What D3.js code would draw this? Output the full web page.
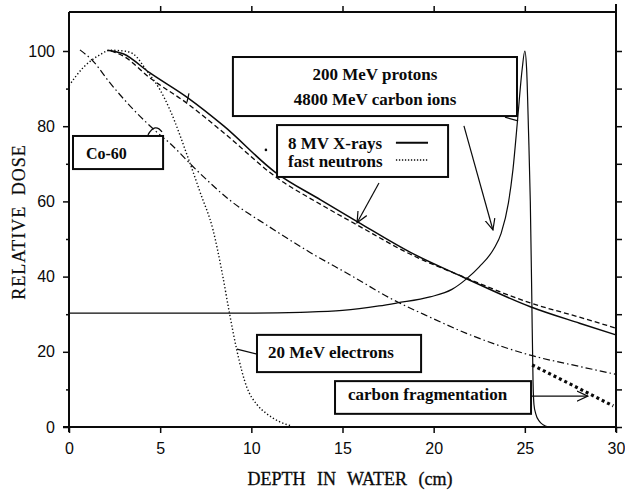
<!DOCTYPE html>
<html>
<head>
<meta charset="utf-8">
<script src="https://cdn.jsdelivr.net/npm/d3@7"></script>
<style>
  html, body { margin: 0; padding: 0; background: #fff; }
  svg { display: block; }
</style>
</head>
<body>
<svg id="chart" width="625" height="491"></svg>
<script>
// ---------- DATA ----------
const depthTicks = [0, 5, 10, 15, 20, 25, 30];
const doseTicks = [0, 20, 40, 60, 80, 100];
const doseMinorTicks = [10, 30, 50, 70, 90];
const rightTicks = [0, 10, 20, 30, 40, 50, 60, 70, 80, 90, 100];

// 8 MV X-rays (solid)
const xrayDepth = [2.1, 3.0, 4.4, 6.5, 8.5, 11.3, 13.8, 15.85, 18.7, 21.6, 25.3, 28.0, 30.0];
const xrayDose  = [100.2, 99.2, 94.3, 87.6, 80.0, 67.8, 60.4, 54.5, 46.5, 39.9, 32.0, 27.6, 24.5];

// fast neutrons (dashed)
const neutronDepth = [2.3, 3.0, 4.4, 6.5, 8.5, 11.4, 13.8, 15.85, 18.7, 21.6, 25.3, 28.0, 30.0];
const neutronDose  = [100.0, 98.6, 93.0, 86.0, 78.2, 66.3, 59.2, 53.6, 46.0, 40.0, 33.0, 29.2, 26.3];

// Co-60 (dash-dot)
const coDepth = [0.6, 1.3, 2.25, 3.5, 4.8, 5.5, 7.0, 8.8, 11.0, 13.2, 15.5, 17.6, 19.8, 21.8, 25.3, 28.0, 30.0];
const coDose  = [100.3, 97.4, 91.5, 84.6, 78.5, 75.6, 68.3, 60.4, 53.2, 46.5, 40.2, 34.3, 29.2, 24.9, 19.1, 16.1, 14.0];

// 20 MeV electrons (dotted)
const elecDepth = [0.0, 0.8, 1.7, 2.25, 3.0, 3.5, 4.3, 5.0, 5.54, 6.5, 7.2, 7.9, 8.4, 8.8, 9.2, 9.75, 10.3, 10.8, 11.5, 12.2];
const elecDose  = [90.8, 95.7, 99.0, 100.2, 100.0, 99.3, 94.5, 89.6, 84.3, 72.0, 62.3, 52.4, 41.0, 30.3, 20.5, 10.6, 6.0, 3.7, 1.5, 0.3];

// 200 MeV protons / 4800 MeV carbon ions (Bragg curve)
const braggDepth = [0, 5, 10, 12.7, 15, 17, 18, 19.8, 21.0, 21.8, 22.5, 23.3, 23.7, 24.1, 24.35, 24.6, 24.85, 25.0, 25.1, 25.2, 25.3, 25.38, 25.45, 25.5, 25.6, 25.8, 26.0, 26.3];
const braggDose  = [30.3, 30.3, 30.3, 30.5, 31.0, 32.2, 33.0, 34.6, 36.6, 39.4, 42.6, 47.4, 51.5, 59.6, 68.5, 81.6, 95.0, 100.0, 95.0, 79.0, 60.0, 35.0, 12.0, 6.0, 3.5, 1.5, 0.6, 0.0];

// carbon fragmentation tail (thick dotted)
const fragDepth = [25.4, 27.5, 29.85];
const fragDose  = [16.5, 11.4, 5.6];

// texts
const xAxisTitle = "DEPTH IN WATER (cm)";
const yAxisTitle = "RELATIVE DOSE";
const protonLabel = ["200 MeV protons", "4800 MeV carbon ions"];
const photonLabel = ["8 MV X-rays", "fast neutrons"];
const cobaltLabel = "Co-60";
const electronLabel = "20 MeV electrons";
const fragLabel = "carbon fragmentation";

// ---------- LAYOUT ----------
const svg = d3.select("#chart");
const L = 69, R = 616, T = 12, B = 427;
const x = d3.scaleLinear().domain([0, 30]).range([L, R]);
const y = d3.scaleLinear().domain([0, 100]).range([B, 51]);
const ink = "#0a0a0a";

const zip = (xs, ys) => xs.map((d, i) => [d, ys[i]]);
const line = d3.line().x(d => x(d[0])).y(d => y(d[1])).curve(d3.curveMonotoneX);
const lineLin = d3.line().x(d => x(d[0])).y(d => y(d[1]));

// ---------- CURVES ----------
const g = svg.append("g");
g.append("path").datum(zip(braggDepth, braggDose)).attr("d", line)
  .attr("fill", "none").attr("stroke", ink).attr("stroke-width", 1.2);
g.append("path").datum(zip(coDepth, coDose)).attr("d", line)
  .attr("fill", "none").attr("stroke", ink).attr("stroke-width", 1.2)
  .attr("stroke-dasharray", "7,3,1.5,3");
g.append("path").datum(zip(elecDepth, elecDose)).attr("d", line)
  .attr("fill", "none").attr("stroke", ink).attr("stroke-width", 1.4)
  .attr("stroke-dasharray", "1.3,2.2");
g.append("path").datum(zip(neutronDepth, neutronDose)).attr("d", line)
  .attr("fill", "none").attr("stroke", ink).attr("stroke-width", 1.3)
  .attr("stroke-dasharray", "5,3");
g.append("path").datum(zip(xrayDepth, xrayDose)).attr("d", line)
  .attr("fill", "none").attr("stroke", ink).attr("stroke-width", 1.5);
g.append("path").datum(zip(fragDepth, fragDose)).attr("d", lineLin)
  .attr("fill", "none").attr("stroke", ink).attr("stroke-width", 3.2)
  .attr("stroke-dasharray", "3,3");

// ---------- AXES / FRAME ----------
const tickFont = "'Liberation Sans', Arial, sans-serif";
const ax = svg.append("g");
ax.append("line").attr("x1", L).attr("x2", L).attr("y1", T).attr("y2", B + 5).attr("stroke", ink).attr("stroke-width", 2);
ax.append("line").attr("x1", L - 6).attr("x2", R).attr("y1", B).attr("y2", B).attr("stroke", ink).attr("stroke-width", 2);
ax.append("line").attr("x1", L).attr("x2", R).attr("y1", T).attr("y2", T).attr("stroke", ink).attr("stroke-width", 1.8);
ax.append("line").attr("x1", R).attr("x2", R).attr("y1", T - 8).attr("y2", B + 5).attr("stroke", ink).attr("stroke-width", 2);

const axBottom = ax.append("g").attr("transform", `translate(0,${B})`)
  .call(d3.axisBottom(x).tickValues(depthTicks).tickFormat(d3.format("d")).tickSize(6).tickPadding(10));
const axLeft = ax.append("g").attr("transform", `translate(${L},0)`)
  .call(d3.axisLeft(y).tickValues(doseTicks).tickFormat(d3.format("d")).tickSize(6).tickPadding(8));
const axLeftMinor = ax.append("g").attr("transform", `translate(${L},0)`)
  .call(d3.axisLeft(y).tickValues(doseMinorTicks).tickFormat("").tickSize(3));
const axTop = ax.append("g").attr("transform", `translate(0,${T})`)
  .call(d3.axisTop(x).tickValues(depthTicks.slice(1, -1)).tickFormat("").tickSize(6));
const axRight = ax.append("g").attr("transform", `translate(${R},0)`)
  .call(d3.axisRight(y).tickValues(rightTicks).tickFormat("").tickSize(6));

[axBottom, axLeft, axLeftMinor, axTop, axRight].forEach(s => {
  s.select(".domain").remove();
  s.selectAll(".tick line").attr("stroke", ink).attr("stroke-width", 1.5);
  s.selectAll(".tick text").attr("fill", ink).attr("font-family", tickFont).attr("font-size", 16);
});

// axis titles
const serif = "'Liberation Serif', 'Times New Roman', serif";
svg.append("text").attr("x", 350).attr("y", 485).attr("text-anchor", "middle")
  .attr("font-family", serif).attr("font-size", 18)
  .attr("word-spacing", 7).attr("fill", ink).attr("stroke", ink).attr("stroke-width", 0.3).text(xAxisTitle);
svg.append("text").attr("transform", "translate(25,222) rotate(-90)").attr("text-anchor", "middle")
  .attr("font-family", serif).attr("font-size", 18)
  .attr("letter-spacing", 1).attr("word-spacing", 5).attr("fill", ink).attr("stroke", ink).attr("stroke-width", 0.2).text(yAxisTitle);

// ---------- ANNOTATIONS ----------
const ann = svg.append("g");
svg.append("defs").append("marker").attr("id", "arr").attr("viewBox", "0 0 12 12")
  .attr("refX", 11).attr("refY", 6).attr("markerWidth", 12).attr("markerHeight", 12)
  .attr("markerUnits", "userSpaceOnUse").attr("orient", "auto")
  .append("path").attr("d", "M0,1 L11,6 L0,11").attr("fill", "none").attr("stroke", ink).attr("stroke-width", 1.2);

function box(x0, x1, v0, v1) {
  ann.append("rect").attr("x", x(x0)).attr("y", y(v0)).attr("width", x(x1) - x(x0)).attr("height", y(v1) - y(v0))
    .attr("fill", "#fff").attr("stroke", ink).attr("stroke-width", 2);
}
function label(str, xx, vv, anchor) {
  ann.append("text").attr("x", x(xx)).attr("y", y(vv)).attr("text-anchor", anchor || "start")
    .attr("font-family", serif).attr("font-weight", "bold").attr("font-size", 17).attr("fill", ink).text(str);
}
function seg(a, b, c, d, arrow) {
  const l = ann.append("line").attr("x1", x(a)).attr("y1", y(b)).attr("x2", x(c)).attr("y2", y(d))
    .attr("stroke", ink).attr("stroke-width", 1.2);
  if (arrow) l.attr("marker-end", "url(#arr)");
}

box(8.99, 24.57, 98.4, 82.7);
label(protonLabel[0], 16.78, 92.3, "middle");
label(protonLabel[1], 16.78, 85.6, "middle");
seg(23.91, 82.4, 24.63, 81.4);
seg(21.66, 80.1, 23.25, 52.4, true);

box(11.41, 20.79, 80.3, 66.5);
label(photonLabel[0], 12.01, 73.9);
label(photonLabel[1], 12.01, 69.1);
ann.append("line").attr("x1", x(17.93)).attr("x2", x(19.69)).attr("y1", y(75.6)).attr("y2", y(75.6))
  .attr("stroke", ink).attr("stroke-width", 2);
ann.append("line").attr("x1", x(17.93)).attr("x2", x(19.69)).attr("y1", y(71.0)).attr("y2", y(71.0))
  .attr("stroke", ink).attr("stroke-width", 1.4).attr("stroke-dasharray", "1.3,1.7");
seg(17.0, 64.9, 15.8, 54.3, true);

box(0.22, 5.16, 77.4, 68.6);
ann.append("text").attr("x", x(0.93)).attr("y", y(71.3)).attr("font-family", serif).attr("font-weight", "bold")
  .attr("font-size", 16).attr("fill", ink).text(cobaltLabel);
ann.append("path").attr("d", `M${x(4.33)},${y(77.7)} Q${x(4.72)},${y(81.0)} ${x(5.1)},${y(78.5)}`)
  .attr("fill", "none").attr("stroke", ink).attr("stroke-width", 1.3);

box(10.31, 19.31, 24.5, 14.6);
label(electronLabel, 10.91, 18.4);
seg(10.31, 19.4, 9.21, 20.7);

box(14.59, 25.34, 12.2, 3.5);
label(fragLabel, 15.3, 7.2);
seg(25.39, 8.2, 28.46, 8.2, true);

seg(6.47, 86.4, 6.58, 88.7);
ann.append("circle").attr("cx", x(10.8)).attr("cy", y(73.7)).attr("r", 1.3).attr("fill", ink);
</script>
</body>
</html>
